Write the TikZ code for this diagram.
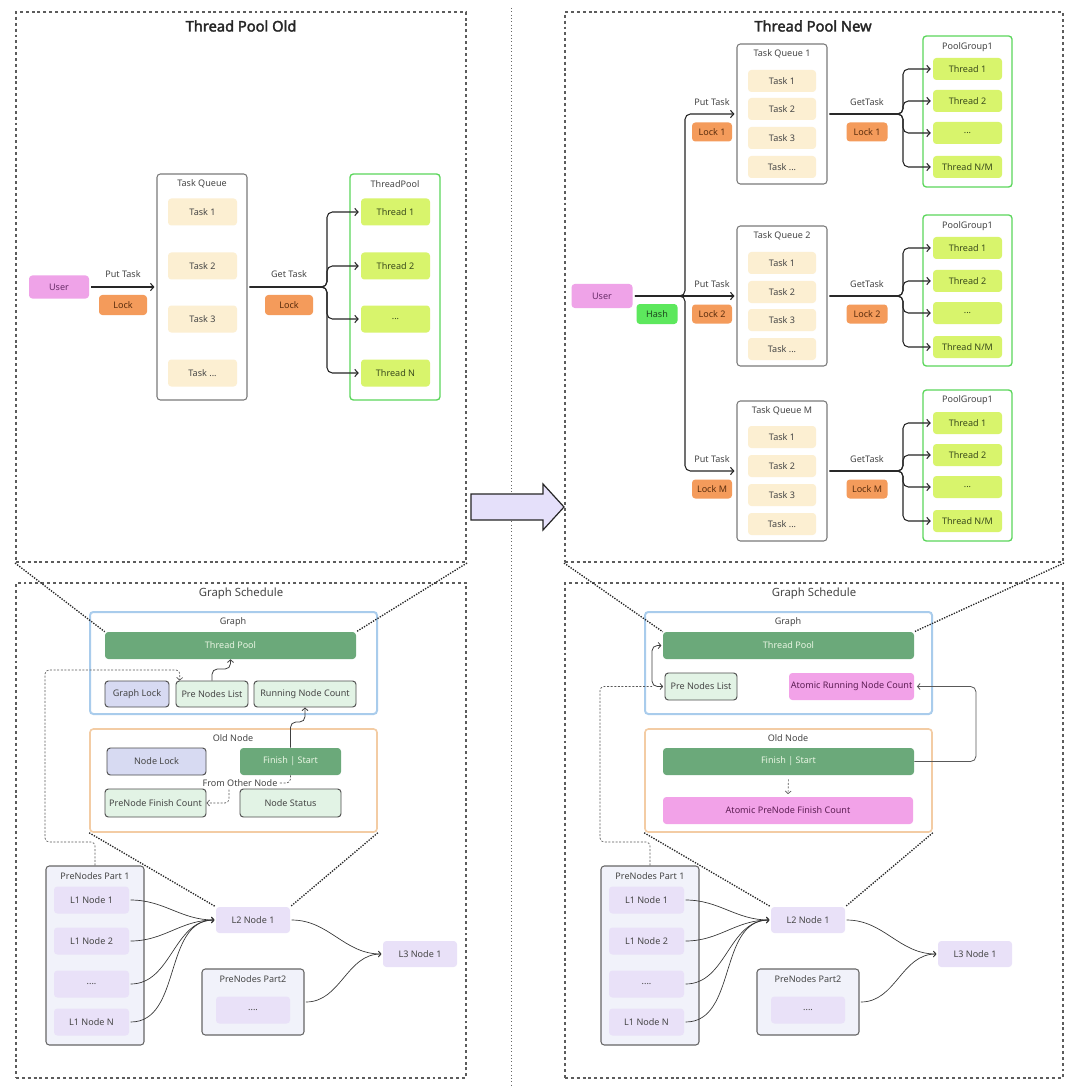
\documentclass[tikz,border=0pt]{standalone}
\usepackage{fontspec}
\setmainfont{Noto Sans}
\newfontfamily\ttlfont{Noto Sans}[FakeBold=2.2]
\usetikzlibrary{arrows.meta}
\newcommand{\mydots}{...}
\newcommand{\mydotsf}{....}
\definecolor{txt}{HTML}{464646}
\definecolor{panel}{HTML}{5C5C5C}
\definecolor{taskf}{HTML}{FCEFD2}
\definecolor{threadf}{HTML}{D8F46C}
\definecolor{threadt}{HTML}{3A4A1C}
\definecolor{poolb}{HTML}{5CD65C}
\definecolor{qb}{HTML}{7A7A7A}
\definecolor{userf}{HTML}{EFA3E8}
\definecolor{usert}{HTML}{6B2E6B}
\definecolor{lockf}{HTML}{F49B5B}
\definecolor{lockt}{HTML}{5C2E0E}
\definecolor{hashf}{HTML}{5DE85D}
\definecolor{hasht}{HTML}{1E4A1E}
\definecolor{graphb}{HTML}{A9CCEC}
\definecolor{oldb}{HTML}{F3CCA4}
\definecolor{tpf}{HTML}{6BA97A}
\definecolor{tpt}{HTML}{E8F5E2}
\definecolor{lockbf}{HTML}{D7DAF2}
\definecolor{lgf}{HTML}{E2F3E5}
\definecolor{atomf}{HTML}{F2A2E8}
\definecolor{atomt}{HTML}{5E1F55}
\definecolor{lnf}{HTML}{E9E1F8}
\definecolor{partf}{HTML}{F1F2FA}
\definecolor{bigarr}{HTML}{E5E0FA}
\begin{document}
\begin{tikzpicture}[x=0.75pt,y=-0.75pt,
  font=\fontsize{6.8}{8}\selectfont,
  wd/.style={minimum width=#1*0.75pt},
  ht/.style={minimum height=#1*0.75pt},
  base/.style={rectangle, inner sep=0pt, rounded corners=2.5pt, text=txt},
  task/.style={base, fill=taskf, wd=69, ht=27},
  thr/.style={base, fill=threadf, text=threadt, wd=69, ht=27},
  qbox/.style={base, draw=qb, line width=0.8pt, fill=white},
  pbox/.style={base, draw=poolb, line width=1pt, fill=white},
  usr/.style={base, fill=userf, text=usert},
  lk/.style={base, fill=lockf, text=lockt},
  hsh/.style={base, fill=hashf, text=hasht},
  lbl/.style={inner sep=0pt, text=txt},
  ttl/.style={lbl, font=\ttlfont\fontsize{11}{13}\selectfont, text=black!85},
  sub/.style={lbl, font=\fontsize{8.5}{10}\selectfont},
  panelbox/.style={rectangle, inner sep=0pt, draw=panel, line width=1.5pt, dash pattern=on 2.2pt off 2.2pt},
  flow/.style={draw=black!85, line width=0.8pt, rounded corners=4pt, shorten >=1.5pt, shorten <=1.5pt, -{Straight Barb[length=2.5pt,width=5.5pt]}},
  gbox/.style={base, draw=graphb, line width=1.5pt, fill=white},
  obox/.style={base, draw=oldb, line width=1.2pt, fill=white},
  tpbar/.style={base, fill=tpf, text=tpt},
  sm/.style={base, draw=black!70, line width=0.7pt},
  atom/.style={base, fill=atomf, text=atomt},
  ln/.style={base, fill=lnf, wd=75, ht=27},
  part/.style={base, draw=black!60, line width=0.8pt, fill=partf},
  dsh/.style={draw=black!65, line width=0.5pt, dash pattern=on 1.5pt off 1.2pt, rounded corners=3pt},
  thin arr/.style={draw=black!75, line width=0.6pt, rounded corners=4pt, -{Straight Barb[length=2pt,width=4.5pt]}},
  cv/.style={draw=black!80, line width=0.5pt, -{Straight Barb[length=2pt,width=4.5pt]}},
  zoomline/.style={draw=black!85, line width=1pt, densely dotted},
]
\useasboundingbox (0,0) rectangle (1080,1087);
\fill[white] (0,0) rectangle (1080,1087);

% ---------- middle separator and big arrow
\coordinate (midtop) at (511,8);
\coordinate (midbot) at (511,1085);
\draw[black!60, line width=0.5pt, dotted] (midtop) -- (midbot);

% ---------- panels
\node[panelbox, wd=450, ht=550] (pTL) at (241,287) {};
\node[panelbox, wd=498, ht=550] (pTR) at (814,287) {};
\node[panelbox, wd=450, ht=495] (pBL) at (241,830.5) {};
\node[panelbox, wd=498, ht=495] (pBR) at (814,830.5) {};

\filldraw[fill=bigarr, draw=black!85, line width=0.9pt, line join=miter]
  (471,494) -- (543,494) -- (543,484) -- (564,507) -- (543,530) -- (543,520) -- (471,520) -- cycle;

% ================= Thread Pool Old
\node[ttl] (tOld) at (241,26) {Thread Pool Old};
\node[usr, wd=60, ht=23] (u0) at (59,287) {User};
\node[qbox, wd=90, ht=226] (q0) at (202,287) {};
\node[lbl] (q0l) at (202,184) {Task Queue};
\foreach \y/\t [count=\i] in {212/Task 1,266/Task 2,319/Task 3,373/Task \mydots}
  \node[task] (t0\i) at (202.5,\y) {\t};
\node[pbox, wd=90, ht=226] (p0) at (395,287) {};
\node[lbl] (p0l) at (395,184) {ThreadPool};
\foreach \y/\t [count=\i] in {212/Thread 1,266/Thread 2,319/\mydots,373/Thread N}
  \node[thr] (th0\i) at (395.5,\y) {\t};
\node[lbl] (put0) at (123,274) {Put Task};
\node[lk, wd=48, ht=20] (lk0a) at (123,305) {Lock};
\node[lbl] (get0) at (289,274) {Get Task};
\node[lk, wd=48, ht=20] (lk0b) at (289,305) {Lock};
\draw[flow] (u0.east) -- (q0.west);
\foreach \k in {1,2,3,4}
  \draw[flow] (q0.east) -- (327,287) |- (th0\k.west);

% ================= Thread Pool New
\node[ttl] (tNew) at (813,26) {Thread Pool New};
\node[usr, wd=61, ht=24] (u1) at (602,296) {User};
\node[hsh, wd=41, ht=20] (hash) at (657,314) {Hash};

\foreach \q/\qy/\ly/\qn/\lname/\ya/\yb/\yc/\yd in
  {1/114/54/1/Lock 1/81/109/138/167,
   2/296/236/2/Lock 2/263/292/320/349,
   3/471/411/M/Lock M/437/466/495/524}{
  \node[qbox, wd=90, ht=140] (nq\q) at (782,\qy) {};
  \node[lbl] (nql\q) at (782,\ly) {Task Queue \qn};
  \node[task, wd=68, ht=22] (nt\q-1) at (782,\ya) {Task 1};
  \node[task, wd=68, ht=22] (nt\q-2) at (782,\yb) {Task 2};
  \node[task, wd=68, ht=22] (nt\q-3) at (782,\yc) {Task 3};
  \node[task, wd=68, ht=22] (nt\q-4) at (782,\yd) {Task \mydots};
  \node[lbl] (nput\q) at (712,\qy-12) {Put Task};
  \node[lk, wd=40, ht=19] (nlka\q) at (712,\qy+18) {\lname};
  \node[lbl] (nget\q) at (867,\qy-12) {GetTask};
  \node[lk, wd=41, ht=19] (nlkb\q) at (867,\qy+18) {\lname};
}

\foreach \q/\py/\ly/\ya/\yb/\yc/\yd in
  {1/111.5/47/69/101/133/167,
   2/290.5/226/248/281/313/347,
   3/465.5/400/423/455/487/521}{
  \node[pbox, wd=89, ht=151] (np\q) at (967.5,\py) {};
  \node[lbl] (npl\q) at (967.5,\ly) {PoolGroup1};
  \node[thr, ht=22] (nth\q-1) at (967.5,\ya) {Thread 1};
  \node[thr, ht=22] (nth\q-2) at (967.5,\yb) {Thread 2};
  \node[thr, ht=22] (nth\q-3) at (967.5,\yc) {\mydots};
  \node[thr, ht=22] (nth\q-4) at (967.5,\yd) {Thread N/M};
}

\draw[flow] (u1.east) -- (685,296) |- (nq1.west);
\draw[flow] (u1.east) -- (nq2.west);
\draw[flow] (u1.east) -- (685,296) |- (nq3.west);
\foreach \q/\qy in {1/114,2/296,3/471}
  \foreach \k in {1,2,3,4}
    \draw[flow] (nq\q.east) -- (903,\qy) |- (nth\q-\k.west);

% ================= Graph Schedule (left)
\node[sub] (gsL) at (241,594) {Graph Schedule};
\node[gbox, wd=287, ht=102] (gL) at (233.5,663) {};
\node[lbl] (gLl) at (233,622) {Graph};
\node[tpbar, wd=251, ht=27] (tpL) at (230.5,645.5) {Thread Pool};
\node[sm, fill=lockbf, wd=64, ht=26] (glk) at (137,694) {Graph Lock};
\node[sm, fill=lgf, wd=72, ht=26] (pnlL) at (212,694) {Pre Nodes List};
\node[sm, fill=lgf, wd=102, ht=26] (rnc) at (305,694) {Running Node Count};
\node[obox, wd=287, ht=103] (oL) at (233.5,780.5) {};
\node[lbl] (oLl) at (233,738) {Old Node};
\node[sm, fill=lockbf, wd=99, ht=27] (nlk) at (156.5,761.5) {Node Lock};
\node[tpbar, wd=101, ht=27] (fsL) at (290.5,761.5) {Finish | Start};
\node[sm, fill=lgf, wd=101, ht=28] (pfc) at (155.5,803) {PreNode Finish Count};
\node[sm, fill=lgf, wd=101, ht=28] (nst) at (290.5,803) {Node Status};

\draw[dsh, -{Straight Barb[length=2pt,width=4.5pt]}] (fsL.south) |- (229,783) |- (pfc.east);
\node[lbl, fill=white, inner sep=1pt] (fon) at (240,783) {From Other Node};
\draw[thin arr] (fsL.north) -- (290.5,722) -- (305,722) -- (rnc.south);
\draw[thin arr] (pnlL.north) -- (212,669) -- (230.5,669) -- (tpL.south);

\node[part, wd=98, ht=179] (ppL1) at (95,955.5) {};
\node[lbl] (ppL1l) at (95,876) {PreNodes Part 1};
\foreach \y/\t [count=\i] in {900/L1 Node 1,941/L1 Node 2,984/\mydotsf,1022/L1 Node N}
  \node[ln] (l1L\i) at (91.5,\y) {\t};
\node[ln, wd=74, ht=26] (l2L) at (253,920) {L2 Node 1};
\node[ln, wd=74, ht=26] (l3L) at (420,954) {L3 Node 1};
\node[part, wd=102, ht=66] (ppL2) at (253,1002) {};
\node[lbl] (ppL2l) at (253,979) {PreNodes Part2};
\node[ln, wd=74, ht=27] (ppL2i) at (253,1010) {\mydotsf};
\foreach \i in {1,2,3,4}
  \draw[cv] ([xshift=1pt]l1L\i.east) to[out=0,in=180] ([xshift=-1pt]l2L.west);
\draw[cv] ([xshift=1pt]l2L.east) to[out=0,in=180] ([xshift=-1pt]l3L.west);
\draw[cv] ([xshift=1pt]ppL2.east) to[out=0,in=180] ([xshift=-1pt]l3L.west);

\draw[dsh, -{Straight Barb[length=2pt,width=4.5pt]}] (ppL1.north) -- (95,842) -- (45,842) -- (45,670) -- (180,670) -- ([xshift=3pt]pnlL.north west);

% ================= Graph Schedule (right)
\node[sub] (gsR) at (814,594) {Graph Schedule};
\node[gbox, wd=287, ht=102] (gR) at (788.5,663) {};
\node[lbl] (gRl) at (788,622) {Graph};
\node[tpbar, wd=251, ht=27] (tpR) at (788.5,645.5) {Thread Pool};
\node[sm, fill=lgf, wd=72, ht=27] (pnlR) at (701,686.5) {Pre Nodes List};
\node[atom, wd=125, ht=27] (arnc) at (851.5,686.5) {Atomic Running Node Count};
\node[obox, wd=287, ht=103] (oR) at (788.5,780.5) {};
\node[lbl] (oRl) at (788,738) {Old Node};
\node[tpbar, wd=251, ht=27] (fsR) at (788.5,761.5) {Finish | Start};
\node[atom, wd=250, ht=27] (apf) at (788,810.5) {Atomic PreNode Finish Count};

\draw[dsh, -{Straight Barb[length=2pt,width=4.5pt]}, shorten >=2pt, shorten <=3pt] (fsR.south) -- (apf.north);
\draw[thin arr, draw=black!65] (fsR.east) -- (976,761.5) -- (976,686.5) -- ([xshift=2pt]arnc.east);
\draw[thin arr, {Straight Barb[length=2pt,width=4.5pt]}-{Straight Barb[length=2pt,width=4.5pt]}] ([xshift=-1pt]tpR.west) -- (652,645.5) -- (652,686.5) -- ([xshift=-1pt]pnlR.west);

\node[part, wd=98, ht=179] (ppR1) at (650,955.5) {};
\node[lbl] (ppR1l) at (650,876) {PreNodes Part 1};
\foreach \y/\t [count=\i] in {900/L1 Node 1,941/L1 Node 2,984/\mydotsf,1022/L1 Node N}
  \node[ln] (l1R\i) at (646.5,\y) {\t};
\node[ln, wd=74, ht=26] (l2R) at (808,920) {L2 Node 1};
\node[ln, wd=74, ht=26] (l3R) at (975,954) {L3 Node 1};
\node[part, wd=102, ht=66] (ppR2) at (808,1002) {};
\node[lbl] (ppR2l) at (808,979) {PreNodes Part2};
\node[ln, wd=74, ht=27] (ppR2i) at (808,1010) {\mydotsf};
\foreach \i in {1,2,3,4}
  \draw[cv] ([xshift=1pt]l1R\i.east) to[out=0,in=180] ([xshift=-1pt]l2R.west);
\draw[cv] ([xshift=1pt]l2R.east) to[out=0,in=180] ([xshift=-1pt]l3R.west);
\draw[cv] ([xshift=1pt]ppR2.east) to[out=0,in=180] ([xshift=-1pt]l3R.west);

\draw[dsh] (ppR1.north) -- (650,842) -- (600,842) -- (600,686.5) -- (652,686.5);

% ================= zoom lines
\draw[zoomline] (pTL.south west) -- (tpL.north west);
\draw[zoomline] (pTL.south east) -- (tpL.north east);
\draw[zoomline] (oL.south west) -- (l2L.north west);
\draw[zoomline] (oL.south east) -- (l2L.north east);
\draw[zoomline] (pTR.south west) -- (tpR.north west);
\draw[zoomline] (pTR.south east) -- (tpR.north east);
\draw[zoomline] (oR.south west) -- (l2R.north west);
\draw[zoomline] (oR.south east) -- (l2R.north east);
\end{tikzpicture}
\end{document}
